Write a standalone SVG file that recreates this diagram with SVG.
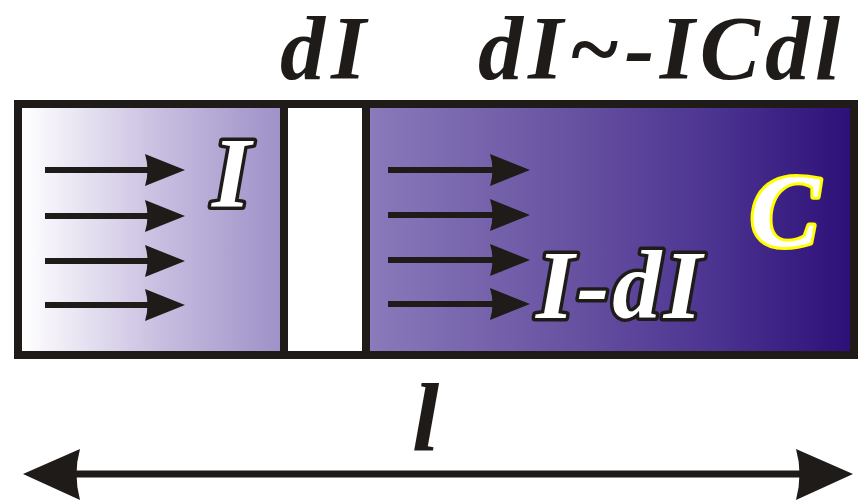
<svg xmlns="http://www.w3.org/2000/svg" width="860" height="501" viewBox="0 0 860 501">
<defs>
<linearGradient id="bar" gradientUnits="userSpaceOnUse" x1="22" y1="0" x2="850" y2="0">
<stop offset="0" stop-color="#ffffff"/>
<stop offset="0.167" stop-color="#c8bee0"/>
<stop offset="0.287" stop-color="#a598cc"/>
<stop offset="0.444" stop-color="#8676b8"/>
<stop offset="0.674" stop-color="#6650a0"/>
<stop offset="0.843" stop-color="#4a3290"/>
<stop offset="1" stop-color="#2e1078"/>
</linearGradient>
<path id="ah" d="M0,0 L-40,-16 Q-35,0 -40,16 Z"/>
</defs>
<style>
.blk{fill:#1e1b19}
.out{fill:#ffffff;stroke:#1e1b19;stroke-width:7;stroke-linejoin:round;paint-order:stroke}
.yel{fill:#ffffff;stroke:#ffff00;stroke-width:6;stroke-linejoin:round;paint-order:stroke}
.ln{stroke:#1e1b19;stroke-width:6;fill:none}
.hd{fill:#1e1b19}
</style>
<g id="bar-box">
<rect x="18" y="104" width="836" height="251" fill="url(#bar)" stroke="#1e1b19" stroke-width="8"/>
</g>
<g id="gap">
<rect x="284" y="104" width="82" height="251" fill="#ffffff" stroke="#1e1b19" stroke-width="8"/>
</g>
<g id="connectors">
<g id="arrows-left">
<line class="ln" x1="45" y1="170" x2="150" y2="170"/><use href="#ah" class="hd" x="185" y="170"/>
<line class="ln" x1="45" y1="216" x2="150" y2="216"/><use href="#ah" class="hd" x="185" y="216"/>
<line class="ln" x1="45" y1="261" x2="150" y2="261"/><use href="#ah" class="hd" x="185" y="261"/>
<line class="ln" x1="45" y1="305" x2="150" y2="305"/><use href="#ah" class="hd" x="185" y="305"/>
</g>
<g id="arrows-right">
<line class="ln" x1="388" y1="170" x2="495" y2="170"/><use href="#ah" class="hd" x="530" y="170"/>
<line class="ln" x1="388" y1="215" x2="495" y2="215"/><use href="#ah" class="hd" x="530" y="215"/>
<line class="ln" x1="388" y1="260" x2="495" y2="260"/><use href="#ah" class="hd" x="530" y="260"/>
<line class="ln" x1="388" y1="304" x2="495" y2="304"/><use href="#ah" class="hd" x="530" y="304"/>
</g>
<g id="length-arrow">
<line x1="70" y1="474" x2="806" y2="474" stroke="#1e1b19" stroke-width="7"/>
<path class="hd" d="M23,474 L80,449 Q73,474 80,500 Z"/>
<path class="hd" d="M853,474 L796,449 Q803,474 796,500 Z"/>
</g>
</g>
<g id="labels">
<text class="out" x="212" y="206" font-size="100" font-family="Liberation Serif" font-weight="bold" font-style="italic">I</text>
<text class="out" x="536" y="318" font-size="98" font-family="Liberation Serif" font-weight="bold" font-style="italic" textLength="166" lengthAdjust="spacing">I-dI</text>
<text class="yel" x="750" y="246" font-size="104" font-family="Liberation Serif" font-weight="bold" font-style="italic">C</text>
<text class="blk" x="280" y="79" font-size="90" font-family="Liberation Serif" font-weight="bold" font-style="italic" textLength="86" lengthAdjust="spacing">dI</text>
<text class="blk" x="478" y="79" font-size="90" font-family="Liberation Serif" font-weight="bold" font-style="italic" textLength="362" lengthAdjust="spacing">dI~-ICdl</text>
<text class="blk" x="412" y="451" font-size="98" font-family="Liberation Serif" font-weight="bold" font-style="italic">l</text>
</g>
</svg>
